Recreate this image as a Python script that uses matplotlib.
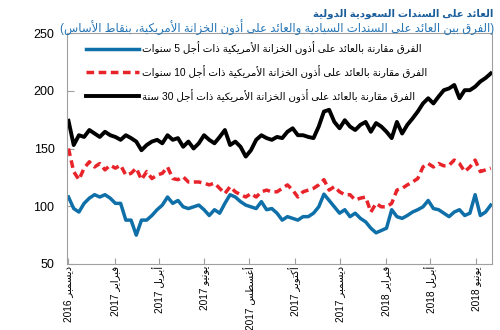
import re
import numpy as np
import pandas as pd
import matplotlib
matplotlib.use("Agg")
import matplotlib.pyplot as plt

# ---------------- data ----------------
start_date = "2016-12-01"
n_weeks = 82

spread_5y = [108, 98, 95, 102.5, 107, 110, 108, 110, 107, 102.5,
             102.5, 88, 88, 75, 88, 88, 92, 97, 101, 108,
             102.5, 105, 99.5, 98, 99.5, 101, 97, 92, 97, 94,
             102.5, 110, 108, 104, 101, 99.5, 98, 104, 97, 98,
             94, 88, 91, 89.5, 88, 91, 91, 94, 99.5, 110.5,
             105, 99.5, 94, 97, 91, 94, 89.5, 86.5, 81, 77,
             79, 81, 97, 91, 89.5, 92, 95, 97, 99.5, 105,
             98, 97, 94, 91, 95, 97, 92, 94, 110, 92,
             95, 101]

spread_10y = [150, 130, 123, 133, 138.5, 134, 137, 131.5, 135.5, 133,
              135.5, 127, 128.5, 133, 123, 130, 124, 127, 128.5, 134,
              124, 123, 125.5, 121, 121, 121, 120, 118.5, 120, 115.5,
              111, 117, 112.5, 110, 108, 111, 108, 112.5, 114, 112.5,
              112.5, 115.5, 118.5, 114, 108, 112.5, 114, 115.5, 118.5, 123,
              114, 117, 112.5, 110, 110, 105.5, 107, 108, 95, 102.5,
              99.5, 99.5, 102.5, 114, 115.5, 118.5, 121, 124, 134, 137,
              134, 137, 135, 135.5, 140, 137, 130, 134, 140, 130,
              131.5, 133]

spread_30y = [174, 153, 161.5, 160, 166, 163, 160, 164.5, 161.5, 160,
              157.5, 161.5, 159, 156, 148.5, 153, 156, 157.5, 154.5, 161.5,
              157.5, 159, 151.5, 156, 150, 154.5, 161.5, 157.5, 154.5, 160,
              166, 153, 156, 151.5, 143, 148.5, 157.5, 161.5, 159, 157.5,
              160, 159, 164.5, 167.5, 161.5, 161.5, 160, 159, 169, 182,
              183.5, 173, 167.5, 174.5, 169, 166, 170.5, 173, 164.5, 172,
              169, 164.5, 159, 173, 163, 170.5, 176, 182, 189, 193.5,
              189, 195, 200.5, 202, 205, 193.5, 200.5, 200.5, 203.5, 208,
              211, 215]

y_ticks = [50, 100, 150, 200, 250]
x_tick_dates = ["2016-12-01", "2017-02-01", "2017-04-01", "2017-06-01", "2017-08-01",
                "2017-10-01", "2017-12-01", "2018-02-01", "2018-04-01", "2018-06-01"]
x_tick_labels = ["ديسمبر 2016", "فبراير 2017", "أبريل 2017", "يونيو 2017", "أغسطس 2017",
                 "أكتوبر 2017", "ديسمبر 2017", "فبراير 2018", "أبريل 2018", "يونيو 2018"]

title = "العائد على السندات السعودية الدولية"
subtitle = "(الفرق بين العائد على السندات السيادية والعائد على أذون الخزانة الأمريكية، بنقاط الأساس)"
labels = ["الفرق مقارنة بالعائد على أذون الخزانة الأمريكية ذات أجل 5 سنوات",
          "الفرق مقارنة بالعائد على أذون الخزانة الأمريكية ذات أجل 10 سنوات",
          "الفرق مقارنة بالعائد على أذون الخزانة الأمريكية ذات أجل 30 سنة"]

# ---------------- minimal Arabic shaping + RTL ordering ----------------
_BASE = {'ء': 0xFE80, 'آ': 0xFE81, 'أ': 0xFE83, 'ؤ': 0xFE85, 'إ': 0xFE87, 'ئ': 0xFE89,
         'ا': 0xFE8D, 'ب': 0xFE8F, 'ة': 0xFE93, 'ت': 0xFE95, 'ث': 0xFE99, 'ج': 0xFE9D,
         'ح': 0xFEA1, 'خ': 0xFEA5, 'د': 0xFEA9, 'ذ': 0xFEAB, 'ر': 0xFEAD, 'ز': 0xFEAF,
         'س': 0xFEB1, 'ش': 0xFEB5, 'ص': 0xFEB9, 'ض': 0xFEBD, 'ط': 0xFEC1, 'ظ': 0xFEC5,
         'ع': 0xFEC9, 'غ': 0xFECD, 'ف': 0xFED1, 'ق': 0xFED5, 'ك': 0xFED9, 'ل': 0xFEDD,
         'م': 0xFEE1, 'ن': 0xFEE5, 'ه': 0xFEE9, 'و': 0xFEED, 'ى': 0xFEEF, 'ي': 0xFEF1}
_RIGHT = set('آأؤإاةدذرزوى')
_NONE = set('ء')
_LAMALEF = {'آ': 0xFEF5, 'أ': 0xFEF7, 'إ': 0xFEF9, 'ا': 0xFEFB}


def _dual(c):
    return (c in _BASE and c not in _RIGHT and c not in _NONE) or c == 'ـ'


def _joins(c):
    return c in _BASE and c not in _NONE or c == 'ـ'


def shape(s):
    chars = list(s)
    out = []
    i = 0
    n = len(chars)
    while i < n:
        c = chars[i]
        prev = chars[i - 1] if i > 0 else ''
        conn_prev = i > 0 and _dual(prev)
        if c == 'ل' and i + 1 < n and chars[i + 1] in _LAMALEF:
            code = _LAMALEF[chars[i + 1]] + (1 if conn_prev else 0)
            out.append(chr(code))
            i += 2
            continue
        if c == 'ـ' or c not in _BASE:
            out.append(c)
            i += 1
            continue
        nxt = chars[i + 1] if i + 1 < n else ''
        conn_next = _dual(c) and _joins(nxt)
        base = _BASE[c]
        if c in _NONE:
            code = base
        elif c in _RIGHT:
            code = base + (1 if conn_prev else 0)
        else:
            if conn_prev and conn_next:
                code = base + 3
            elif conn_prev:
                code = base + 1
            elif conn_next:
                code = base + 2
            else:
                code = base
        out.append(chr(code))
        i += 1
    return ''.join(out)


_MIRROR = {'(': ')', ')': '('}


def ar(s):
    shaped = shape(s)
    tokens = re.findall(r'[0-9A-Za-z]+(?:[.,][0-9]+)*|.', shaped)
    tokens = [_MIRROR.get(t, t) for t in tokens[::-1]]
    return ''.join(tokens)


# ---------------- plot ----------------
FAM = ['Liberation Sans', 'DejaVu Sans']
plt.rcParams['font.family'] = FAM

dates = pd.date_range(start_date, periods=n_weeks, freq="7D")

fig = plt.figure(figsize=(5, 3.3), dpi=100)
ax = fig.add_axes([0.134, 0.2, 0.849, 0.70])

c_blue = '#0f6fa8'
c_red = '#e8232a'
c_black = '#000000'

l1, = ax.plot(dates, spread_5y, color=c_blue, lw=2.5, solid_joinstyle='round')
l2, = ax.plot(dates, spread_10y, color=c_red, lw=2.5, dashes=(2.2, 1.3))
l3, = ax.plot(dates, spread_30y, color=c_black, lw=2.8, solid_joinstyle='round')

ax.set_ylim(50, 250)
ax.set_yticks(y_ticks)
ax.set_yticklabels([str(v) for v in y_ticks], fontsize=9)
ax.set_xlim(pd.Timestamp("2016-11-29"), pd.Timestamp("2018-06-22"))
ax.set_xticks(pd.to_datetime(x_tick_dates))
ax.set_xticklabels([ar(t) for t in x_tick_labels], rotation=90, fontsize=7.3,
                   va='top', ha='center')
ax.tick_params(axis='y', direction='in', length=5, pad=9, colors='#000000')
ax.tick_params(axis='x', direction='in', length=4, pad=1.5)
for sp in ax.spines.values():
    sp.set_color('#a0a0a0')
    sp.set_linewidth(0.8)
ax.tick_params(axis='both', color='#a0a0a0')

leg = ax.legend([l1, l2, l3], [ar(t) for t in labels], loc='upper left',
                bbox_to_anchor=(0.03, 0.99), frameon=False,
                handlelength=5.2, handletextpad=0.3, labelspacing=0.95,
                borderaxespad=0.2, prop={'family': FAM, 'size': 7.4})

fig.text(0.986, 0.958, ar(title), ha='right', va='center', fontsize=7.4,
         fontweight='bold', color='#1b5e9c', family=FAM)
fig.text(0.988, 0.915, ar(subtitle), ha='right', va='center', fontsize=8.4,
         color='#2575b5', family=FAM)

fig.savefig("out.png", dpi=100)
